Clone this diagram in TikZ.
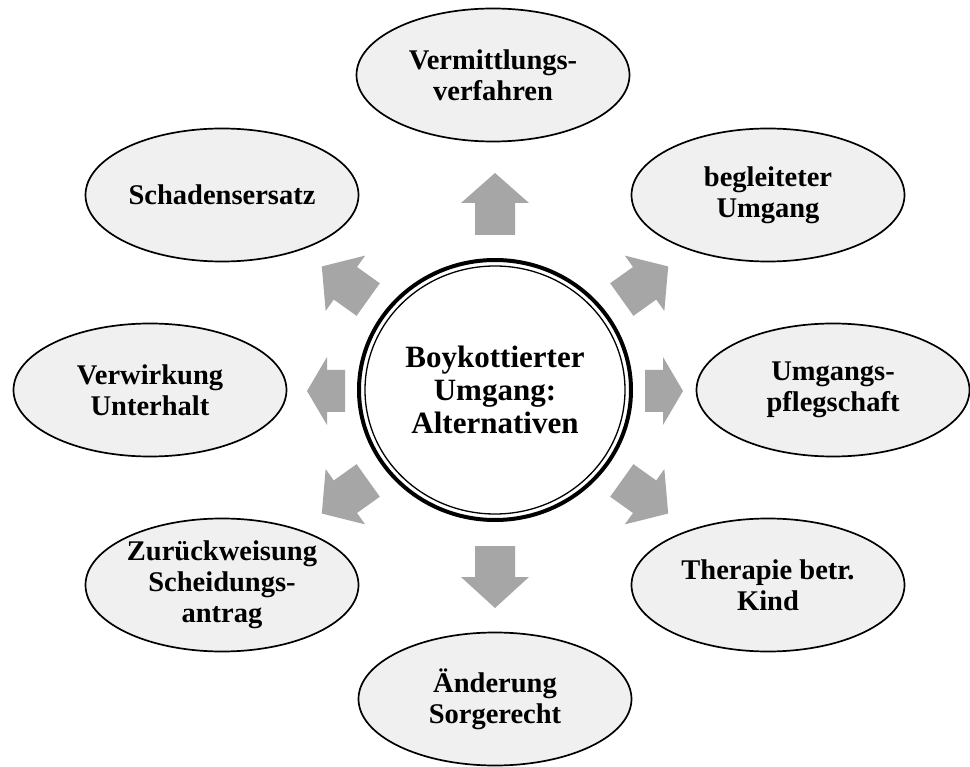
\documentclass[tikz,border=0pt]{standalone}
\usepackage{fontspec}
\setmainfont{Liberation Serif}
\usetikzlibrary{shapes.geometric}
\definecolor{satfill}{RGB}{240,240,240}
\definecolor{arrowgray}{RGB}{166,166,166}
\newcommand{\blockarrow}[7]{%
  \fill[arrowgray,shift={#1},rotate=#2] (-#3/2,#5) -- (#3/2-#4,#5) -- (#3/2-#4,#6) -- (#3/2,0) -- (#3/2-#4,-#6) -- (#3/2-#4,-#5) -- (-#3/2,-#5) -- cycle;}
\begin{document}
\begin{tikzpicture}[x=1pt,y=-1pt,
  sat/.style={ellipse,draw=black,line width=1.7pt,fill=satfill,minimum width=273pt,minimum height=133pt,inner sep=0pt,align=center,font=\bfseries\fontsize{28.5}{31}\selectfont},
  hub/.style={ellipse,draw=black,line width=4pt,fill=white,minimum width=272pt,minimum height=260pt,inner sep=0pt,align=center,font=\bfseries\fontsize{31}{33}\selectfont}]
\useasboundingbox[fill=white] (0,0) rectangle (970,767);
% arrows
\blockarrow{(495,204)}{90}{62}{30}{20}{34}{}
\blockarrow{(495,577)}{-90}{62}{31}{20}{34}{}
\blockarrow{(664,391)}{0}{38}{20}{21}{34}{}
\blockarrow{(326,391)}{180}{38}{20}{21}{34}{}
\blockarrow{(645,283)}{35.5}{57}{29}{20}{34}{}
\blockarrow{(345,283)}{144.5}{57}{29}{20}{34}{}
\blockarrow{(645,497)}{-35.5}{57}{29}{20}{34}{}
\blockarrow{(345,497)}{-144.5}{57}{29}{20}{34}{}
% hub
\node[hub] (c) at (495,390) {Boykottierter\\Umgang:\\Alternativen};
\draw[line width=1.3pt] (c.center) ellipse [x radius=130, y radius=124];
% satellites
\node[sat] (v) at (493,75) {Vermittlungs-\\verfahren};
\node[sat] (b) at (768,195) {begleiteter\\Umgang};
\node[sat] (u) at (833,390) {Umgangs-\\pflegschaft};
\node[sat] (t) at (768,585) {Therapie betr.\\Kind};
\node[sat] (a) at (495,699) {Änderung\\Sorgerecht};
\node[sat] (z) at (222,585) {Zurückweisung\\Scheidungs-\\antrag};
\node[sat] (w) at (150,390) {Verwirkung\\Unterhalt};
\node[sat] (s) at (222,195) {Schadensersatz};
\end{tikzpicture}
\end{document}
